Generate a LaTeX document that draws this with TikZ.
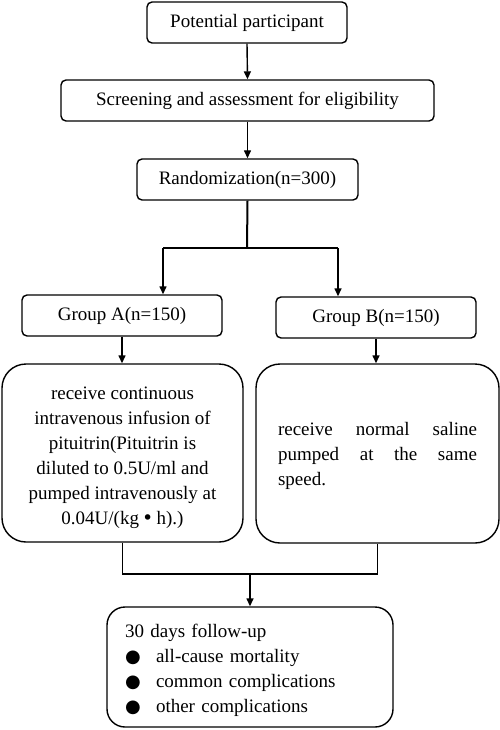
\documentclass[tikz,border=0pt]{standalone}
\usepackage{fontspec}
\setmainfont{Liberation Serif}
\newfontfamily\symfont{DejaVu Sans}
\usetikzlibrary{arrows.meta}
\newcommand{\bul}{\makebox[31pt][l]{\symfont\fontsize{18}{25}\selectfont ●}}
\begin{document}
\begin{tikzpicture}[x=1pt,y=-1pt,
  box/.style={draw, line width=1.4pt, rounded corners=5pt, inner sep=0pt,
    font=\fontsize{19}{25}\selectfont},
  bigbox/.style={box, rounded corners=24pt},
  arr/.style={line width=1.4pt, -{Triangle[length=8pt,width=7pt]}},
  ln/.style={line width=1.4pt}]
\useasboundingbox (0,0) rectangle (500,730);
\node[box, minimum width=200pt, minimum height=41pt] (p) at (247,22.5) {Potential participant};
\node[box, minimum width=373pt, minimum height=41pt] (s) at (247.5,100.5) {Screening and assessment for eligibility};
\node[box, minimum width=221pt, minimum height=41pt] (r) at (247.5,179.5) {Randomization(n=300)};
\node[box, minimum width=200pt, minimum height=41pt] (ga) at (122,315.5) {Group A(n=150)};
\node[box, minimum width=200pt, minimum height=41pt] (gb) at (376,317.5) {Group B(n=150)};
\node[bigbox, minimum width=241pt, minimum height=178pt, align=center] (a) at (122.5,453)
  {\rule{0pt}{23pt}receive continuous\\intravenous infusion of\\pituitrin(Pituitrin is\\diluted to 0.5U/ml and\\pumped intravenously at\\0.04U/(kg{\symfont\,•\,}h).)};
\node[bigbox, minimum width=243pt, minimum height=179pt, align=left] (b) at (377.5,453.5)
  {\rule{0pt}{19pt}\makebox[199pt][s]{receive normal saline}\\\makebox[199pt][s]{pumped at the same}\\speed.};
\node[box, rounded corners=18pt, minimum width=286pt, minimum height=120pt, text width=250pt, align=left] (f) at (250,667)
  {\rule{0pt}{21pt}30 days follow-up\\\bul all-cause mortality\\\bul common complications\\\bul other complications};
\coordinate (j) at (247,248);
\coordinate (jl) at (163,248);
\coordinate (jr) at (338,248);
\coordinate (m) at (250,574);
\draw[arr] (p.south) -- (s.north);
\draw[arr] (s.south) -- (r.north);
\draw[line width=2pt] (r.south) -- (j);
\draw[ln] (jl) -- (jr);
\draw[arr] (jl) -- (jl |- ga.north);
\draw[arr] (jr) -- (jr |- gb.north);
\draw[arr] (ga.south) -- (ga.south |- a.north);
\draw[arr] (gb.south) -- (gb.south |- b.north);
\draw[ln] (a.south) |- (m) -| (b.south);
\draw[arr] (m) -- (f.north);
\end{tikzpicture}
\end{document}
